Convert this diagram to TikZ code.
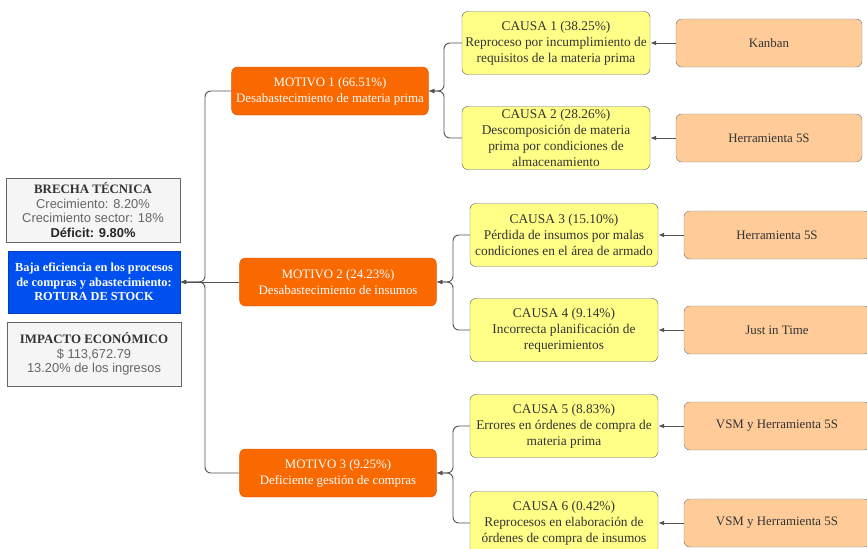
\documentclass[tikz,border=0pt]{standalone}
\usepackage{fontspec}
\setmainfont{Liberation Serif}
\setsansfont{Liberation Sans}
\usepackage{tikz}
\usetikzlibrary{arrows.meta}
\definecolor{motivo}{HTML}{FA6800}
\definecolor{motivoline}{HTML}{D95A00}
\definecolor{causa}{HTML}{FFFF88}
\definecolor{herram}{HTML}{FFCC99}
\definecolor{azul}{HTML}{0050EF}
\definecolor{grisf}{HTML}{F5F5F5}
\definecolor{textgris}{HTML}{666666}
\definecolor{textosc}{HTML}{333333}
\tikzset{base/.style={rectangle,rounded corners=5pt,align=center,inner sep=2pt,
		font=\fontsize{11}{13.6}\selectfont},
	gapbox/.style={base,rounded corners=0pt,draw=textgris,fill=grisf,text=textgris,
		minimum width=5.22cm,minimum height=1.92cm,font=\fontsize{11}{12.4}\selectfont},
	probbox/.style={base,rounded corners=0pt,draw=azul!80!black,fill=azul,text=white,
		minimum width=5.16cm,minimum height=1.86cm,font=\bfseries\fontsize{10.5}{12.4}\selectfont},
	motivebox/.style={base,draw=motivoline,fill=motivo,text=white,
		minimum width=5.9cm,minimum height=1.44cm},
	causebox/.style={base,draw=textosc!70,fill=causa,text=textosc,
		minimum width=5.64cm,minimum height=1.89cm,font=\fontsize{11.4}{13.6}\selectfont},
	toolbox/.style={base,draw=textosc!60,fill=herram,text=textosc,
		minimum width=5.58cm,minimum height=1.44cm},
	conn/.style={draw=textosc!85,line width=0.8pt,rounded corners=5pt,
		-{Latex[length=5pt,width=4pt]}}}

\begin{document}
\begin{tikzpicture}[x=0.03cm,y=-0.03cm]
	\useasboundingbox (0,0) rectangle (867,548);

	% izquierda
	\node[gapbox] (brecha) at (93,210) {\textcolor{textosc}{\rmfamily\bfseries BRECHA TÉCNICA}\\
		\sffamily Crecimiento: 8.20\%\\ \sffamily Crecimiento sector: 18\%\\
		\textcolor{black!85}{\sffamily\bfseries Déficit: 9.80\%}};
	\node[probbox] (prob) at (94,282) {Baja eficiencia en los procesos\\de compras y abastecimiento:\\ROTURA DE STOCK};
	\node[gapbox] (impacto) at (94,354) {\textcolor{textosc}{\rmfamily\bfseries IMPACTO ECONÓMICO}\\
		\sffamily \$ 113,672.79\\ \sffamily 13.20\% de los ingresos};

	% motivos
	\node[motivebox] (m1) at (330,91) {MOTIVO 1 (66.51\%)\\Desabastecimiento de materia prima};
	\node[motivebox] (m2) at (338,282) {MOTIVO 2 (24.23\%)\\Desabastecimiento de insumos};
	\node[motivebox] (m3) at (338,473) {MOTIVO 3 (9.25\%)\\Deficiente gestión de compras};

	% causas
	\node[causebox] (c1) at (556,43) {CAUSA 1 (38.25\%)\\Reproceso por incumplimiento de\\requisitos de la materia prima};
	\node[causebox] (c2) at (556,138) {CAUSA 2 (28.26\%)\\Descomposición de materia\\prima por condiciones de\\almacenamiento};
	\node[causebox] (c3) at (564,235) {CAUSA 3 (15.10\%)\\Pérdida de insumos por malas\\condiciones en el área de armado};
	\node[causebox] (c4) at (564,330) {CAUSA 4 (9.14\%)\\Incorrecta planificación de\\requerimientos};
	\node[causebox] (c5) at (564,426) {CAUSA 5 (8.83\%)\\Errores en órdenes de compra de\\materia prima};
	\node[causebox] (c6) at (564,523) {CAUSA 6 (0.42\%)\\Reprocesos en elaboración de\\órdenes de compra de insumos};

	% herramientas
	\node[toolbox] (t1) at (769,43) {Kanban};
	\node[toolbox] (t2) at (769,138) {Herramienta 5S};
	\node[toolbox] (t3) at (777,235) {Herramienta 5S};
	\node[toolbox] (t4) at (777,330) {Just in Time};
	\node[toolbox] (t5) at (777,426) {VSM y Herramienta 5S};
	\node[toolbox] (t6) at (777,523) {VSM y Herramienta 5S};

	\coordinate (s0) at (205,282);
	\coordinate (s1) at (444,91);
	\coordinate (s2) at (453,282);
	\coordinate (s3) at (453,473);

	\draw[conn] (t1) -- (c1);
	\draw[conn] (t2) -- (c2);
	\draw[conn] (t3) -- (c3);
	\draw[conn] (t4) -- (c4);
	\draw[conn] (t5) -- (c5);
	\draw[conn] (t6) -- (c6);

	\draw[conn] (c1.west) -| (s1) -- (m1.east);
	\draw[conn] (c2.west) -| (s1) -- (m1.east);
	\draw[conn] (c3.west) -| (s2) -- (m2.east);
	\draw[conn] (c4.west) -| (s2) -- (m2.east);
	\draw[conn] (c5.west) -| (s3) -- (m3.east);
	\draw[conn] (c6.west) -| (s3) -- (m3.east);

	\draw[conn] (m1.west) -| (s0) -- (prob.east);
	\draw[conn] (m2.west) -- (prob.east);
	\draw[conn] (m3.west) -| (s0) -- (prob.east);
\end{tikzpicture}
\end{document}
